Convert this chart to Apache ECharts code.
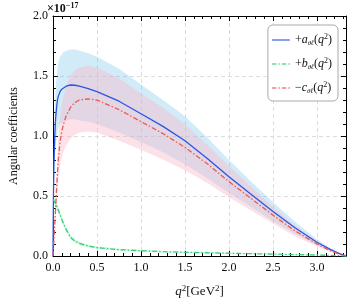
<!DOCTYPE html>
<html><head><meta charset="utf-8">
<script src="https://cdn.jsdelivr.net/npm/echarts@6/dist/echarts.min.js"></script>
<style>html,body{margin:0;padding:0;background:#fff}#c{width:353px;height:303px}</style>
</head><body><div id="c"></div>
<script>
// q^2 sample points [GeV^2]
const q2 = [0, 0.005, 0.01, 0.02, 0.03, 0.04, 0.05, 0.06, 0.08, 0.1, 0.12, 0.15, 0.2, 0.25, 0.3, 0.4, 0.5, 0.75, 1.0, 1.25, 1.5, 1.75, 2.0, 2.25, 2.5, 2.75, 3.0, 3.15, 3.25, 3.33];
// +a central and band (units of 1e-17)
const aMid = [0, 0.5, 0.75, 1.0, 1.15, 1.23, 1.3, 1.33, 1.37, 1.39, 1.405, 1.415, 1.425, 1.423, 1.415, 1.395, 1.37, 1.29, 1.185, 1.08, 0.96, 0.815, 0.66, 0.515, 0.37, 0.235, 0.115, 0.055, 0.022, 0];
const aHi  = [0, 0.6, 0.91, 1.21, 1.39, 1.49, 1.57, 1.61, 1.66, 1.68, 1.70, 1.71, 1.72, 1.72, 1.71, 1.69, 1.66, 1.56, 1.43, 1.30, 1.165, 0.99, 0.80, 0.62, 0.45, 0.285, 0.14, 0.066, 0.026, 0];
const aLo  = [0, 0.4, 0.6, 0.8, 0.92, 0.98, 1.04, 1.06, 1.1, 1.11, 1.12, 1.13, 1.14, 1.14, 1.13, 1.12, 1.10, 1.03, 0.95, 0.865, 0.765, 0.65, 0.525, 0.41, 0.29, 0.185, 0.09, 0.044, 0.017, 0];
// +b central and band
const bMid = [0.47, 0.465, 0.46, 0.45, 0.435, 0.42, 0.40, 0.385, 0.345, 0.305, 0.27, 0.22, 0.155, 0.125, 0.105, 0.083, 0.07, 0.053, 0.044, 0.036, 0.031, 0.027, 0.023, 0.019, 0.016, 0.012, 0.008, 0.005, 0.003, 0];
const bHi  = [0.495, 0.49, 0.485, 0.475, 0.46, 0.445, 0.425, 0.41, 0.37, 0.33, 0.29, 0.24, 0.172, 0.14, 0.118, 0.094, 0.08, 0.061, 0.051, 0.042, 0.036, 0.031, 0.027, 0.022, 0.019, 0.014, 0.01, 0.006, 0.004, 0];
const bLo  = [0.445, 0.44, 0.435, 0.425, 0.41, 0.395, 0.375, 0.36, 0.32, 0.28, 0.25, 0.2, 0.138, 0.11, 0.092, 0.072, 0.06, 0.045, 0.037, 0.03, 0.026, 0.023, 0.019, 0.016, 0.013, 0.01, 0.006, 0.004, 0.002, 0];
// -c central and band
const cMid = [0, 0.06, 0.12, 0.27, 0.4, 0.55, 0.68, 0.8, 0.95, 1.04, 1.1, 1.17, 1.24, 1.28, 1.3, 1.31, 1.3, 1.22, 1.12, 1.02, 0.905, 0.77, 0.62, 0.48, 0.34, 0.21, 0.1, 0.045, 0.016, 0];
const cHi  = [0, 0.073, 0.145, 0.33, 0.48, 0.67, 0.82, 0.97, 1.15, 1.26, 1.33, 1.42, 1.5, 1.55, 1.57, 1.585, 1.57, 1.48, 1.355, 1.235, 1.095, 0.93, 0.75, 0.58, 0.41, 0.255, 0.12, 0.054, 0.019, 0];
const cLo  = [0, 0.047, 0.095, 0.21, 0.32, 0.43, 0.54, 0.63, 0.75, 0.82, 0.87, 0.92, 0.98, 1.01, 1.03, 1.035, 1.03, 0.96, 0.885, 0.805, 0.715, 0.61, 0.49, 0.38, 0.27, 0.165, 0.08, 0.036, 0.013, 0];

const xTicks = [0, 0.5, 1.0, 1.5, 2.0, 2.5, 3.0];
const yTicks = [0, 0.5, 1.0, 1.5, 2.0];

const serif = "'Liberation Serif','DejaVu Serif',serif";
const pts = arr => q2.map((x, i) => [x, arr[i]]);

function band(name, lo, hi, color, z) {
  return {
    name: name, type: 'custom', silent: true, z: z, clip: true,
    data: [0],
    encode: {x: -1, y: -1},
    renderItem: function (params, api) {
      const poly = [];
      for (let i = 0; i < q2.length; i++) poly.push(api.coord([q2[i], hi[i]]));
      for (let i = q2.length - 1; i >= 0; i--) poly.push(api.coord([q2[i], lo[i]]));
      return {type: 'polygon', shape: {points: poly, smooth: 0}, style: {fill: color, stroke: null}};
    }
  };
}
function line(name, arr, color, type) {
  return {name: name, type: 'line', data: pts(arr), symbol: 'none', showSymbol: false, smooth: false,
    itemStyle: {color: color}, lineStyle: {color: color, width: 1.3, type: type}, z: 5};
}

const tickCommon = {
  axisLine: {show: true, onZero: false, lineStyle: {color: '#000', width: 1}},
  axisTick: {show: true, inside: true, length: 5, lineStyle: {color: '#000'}},
  minorTick: {show: true, splitNumber: 5, length: 3, lineStyle: {color: '#000'}},
};

const rich = {
  i: {fontFamily: serif, fontStyle: 'italic', fontSize: 12, color: '#111'},
  n: {fontFamily: serif, fontSize: 12, color: '#111'},
  sup: {fontFamily: serif, fontSize: 8, color: '#111', verticalAlign: 'top', padding: [0, 0, 6, 0]},
  sub: {fontFamily: serif, fontStyle: 'italic', fontSize: 7, color: '#111', verticalAlign: 'bottom', padding: [5, 0, 0, 0]}
};
const legendText = {
  a: '{n|+}{i|a}{sub|θℓ}{n|(}{i|q}{sup|2}{n|)}',
  b: '{n|+}{i|b}{sub|θℓ}{n|(}{i|q}{sup|2}{n|)}',
  c: '{n|−}{i|c}{sub|θℓ}{n|(}{i|q}{sup|2}{n|)}'
};
const solidIcon = 'path://M0,0H36V3H0Z';
const dashDotIcon = 'path://M0,0H9V3H0ZM13,0H16V3H13ZM20,0H29V3H20ZM33,0H36V3H33Z';

const option = {
  animation: false,
  backgroundColor: '#fff',
  grid: {left: 46, right: 7, top: 16, bottom: 45, containLabel: false},
  title: {
    text: '{n|×10}{sup|−17}', left: 42, top: -3,
    textStyle: {rich: {n: {fontFamily: serif, fontSize: 12, color: '#111'}, sup: {fontFamily: serif, fontSize: 8, color: '#111', verticalAlign: 'top', padding: [0, 0, 6, 0]}}}
  },
  legend: {
    data: [{name: 'a', icon: solidIcon}, {name: 'b', icon: dashDotIcon}, {name: 'c', icon: dashDotIcon}],
    orient: 'vertical', right: 15, top: 25,
    backgroundColor: '#fff', borderColor: '#aaa', borderWidth: 1, borderRadius: 5,
    padding: [8, 6, 6, 4], itemGap: 10, itemWidth: 18, itemHeight: 1.5,
    itemStyle: {opacity: 0.75},
    formatter: n => legendText[n],
    textStyle: {rich: rich, fontFamily: serif, fontSize: 12}
  },
  xAxis: [
    Object.assign({type: 'value', min: 0, max: 3.33, interval: 0.5, position: 'bottom',
      name: '{i|q}{sup|2}{n|[GeV}{sup|2}{n|]}', nameLocation: 'middle', nameGap: 28,
      nameTextStyle: {rich: {i: {fontFamily: serif, fontStyle: 'italic', fontSize: 13, color: '#111'}, n: {fontFamily: serif, fontSize: 13, color: '#111'}, sup: {fontFamily: serif, fontSize: 9, color: '#111', verticalAlign: 'top', padding: [0, 0, 6, 0]}}},
      axisLabel: {fontFamily: serif, fontSize: 12, color: '#111', margin: 6, showMaxLabel: false,
        formatter: v => xTicks.some(t => Math.abs(t - v) < 1e-9) ? v.toFixed(1) : ''},
      splitLine: {show: true, lineStyle: {color: '#dcdcdc', type: [4, 3], width: 1}}
    }, tickCommon),
    Object.assign({type: 'value', min: 0, max: 3.33, interval: 0.5, position: 'top',
      axisLabel: {show: false}, splitLine: {show: false}}, tickCommon)
  ],
  yAxis: [
    Object.assign({type: 'value', min: 0, max: 2.0, interval: 0.5, position: 'left',
      name: 'Angular coefficients', nameLocation: 'middle', nameGap: 33,
      nameTextStyle: {fontFamily: serif, fontSize: 12, color: '#111'},
      axisLabel: {fontFamily: serif, fontSize: 12, color: '#111', margin: 5,
        formatter: v => yTicks.some(t => Math.abs(t - v) < 1e-9) ? v.toFixed(1) : ''},
      splitLine: {show: true, lineStyle: {color: '#dcdcdc', type: [4, 3], width: 1}}
    }, tickCommon),
    Object.assign({type: 'value', min: 0, max: 2.0, interval: 0.5, position: 'right',
      axisLabel: {show: false}, splitLine: {show: false}}, tickCommon)
  ],
  series: [
    band('aband', aLo, aHi, 'rgba(105,188,232,0.3)', 1),
    band('cband', cLo, cHi, 'rgba(250,180,197,0.4)', 2),
    band('bband', bLo, bHi, 'rgba(110,235,160,0.35)', 3),
    line('a', aMid, '#2a55e5', 'solid'),
    line('b', bMid, '#35cf7c', [5, 2, 1.5, 2]),
    line('c', cMid, '#ec5a50', [5, 2, 1.5, 2])
  ]
};
const chart = echarts.init(document.getElementById('c'), null, {renderer: 'canvas'});
chart.setOption(option);
</script></body></html>
